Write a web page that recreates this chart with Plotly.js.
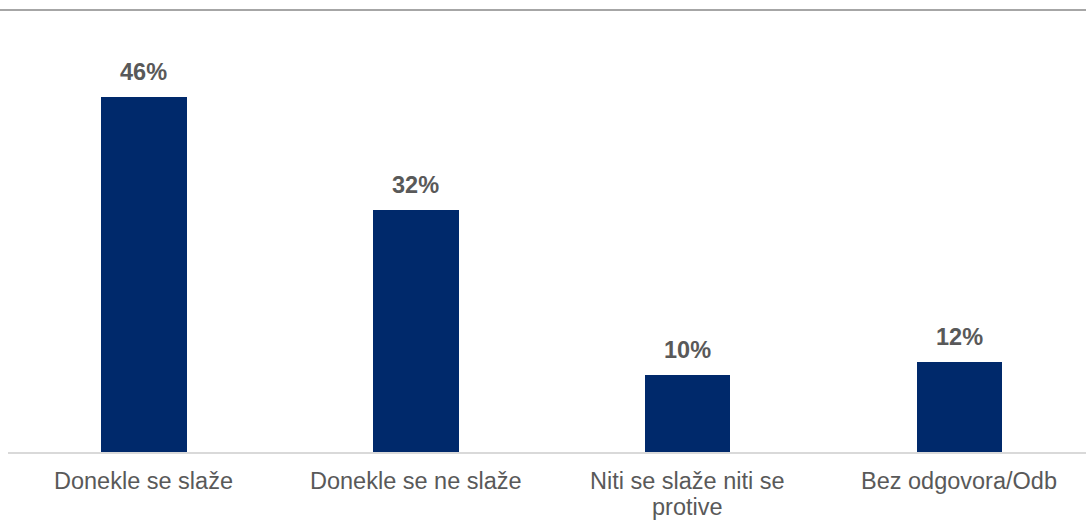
<!DOCTYPE html>
<html>
<head>
<meta charset="utf-8">
<script src="https://cdn.plot.ly/plotly-3.0.1.min.js"></script>
<style>html,body{margin:0;padding:0;background:#fff;}#chart{width:1086px;height:521px;}</style>
</head>
<body>
<div id="chart"></div>
<script>
const categories = ["Donekle se slaže", "Donekle se ne slaže", "Niti se slaže niti se protive", "Bez odgovora/Odb"];
const tickLabels = ["Donekle se slaže", "Donekle se ne slaže", "Niti se slaže niti se<br>protive", "Bez odgovora/Odb"];
const values = [46.4, 31.6, 10.1, 11.7];
const valueLabels = ["46%", "32%", "10%", "12%"];

const labelFont = {family: "Liberation Sans, Arial, sans-serif", size: 23.5, color: "#595959"};

const trace = {
  type: "bar",
  x: categories,
  y: values,
  width: 0.315,
  marker: {color: "#00296b"},
  hoverinfo: "none"
};

const annotations = categories.map((c, i) => ({
  x: c, y: values[i], xref: "x", yref: "y",
  text: "<b>" + valueLabels[i] + "</b>",
  showarrow: false, yanchor: "bottom", yshift: 10,
  font: labelFont
}));

// category labels, one annotation per line for tight line spacing
categories.forEach((c, i) => {
  tickLabels[i].split("<br>").forEach((line, k) => {
    annotations.push({
      x: c, y: 0, xref: "x", yref: "paper",
      text: line, showarrow: false,
      yanchor: "middle", yshift: -29 - 26 * k,
      font: labelFont
    });
  });
});

const layout = {
  width: 1086, height: 521,
  margin: {l: 8, r: 0, t: 10, b: 68.5},
  paper_bgcolor: "#ffffff", plot_bgcolor: "#ffffff",
  showlegend: false,
  bargap: 0,
  xaxis: {
    type: "category",
    range: [-0.5, 3.466],
    showticklabels: false,
    ticks: "",
    showline: true, linecolor: "#d9d9d9", linewidth: 1.5,
    showgrid: false, zeroline: false, fixedrange: true
  },
  yaxis: {
    range: [0, 57.73],
    visible: false, showgrid: false, zeroline: false, fixedrange: true
  },
  annotations: annotations,
  shapes: [{
    type: "line", xref: "paper", yref: "paper",
    x0: -0.01, x1: 1.01, y0: 1, y1: 1,
    line: {color: "#a6a6a6", width: 2}
  }]
};

Plotly.newPlot("chart", [trace], layout, {displayModeBar: false, staticPlot: true});
</script>
</body>
</html>
